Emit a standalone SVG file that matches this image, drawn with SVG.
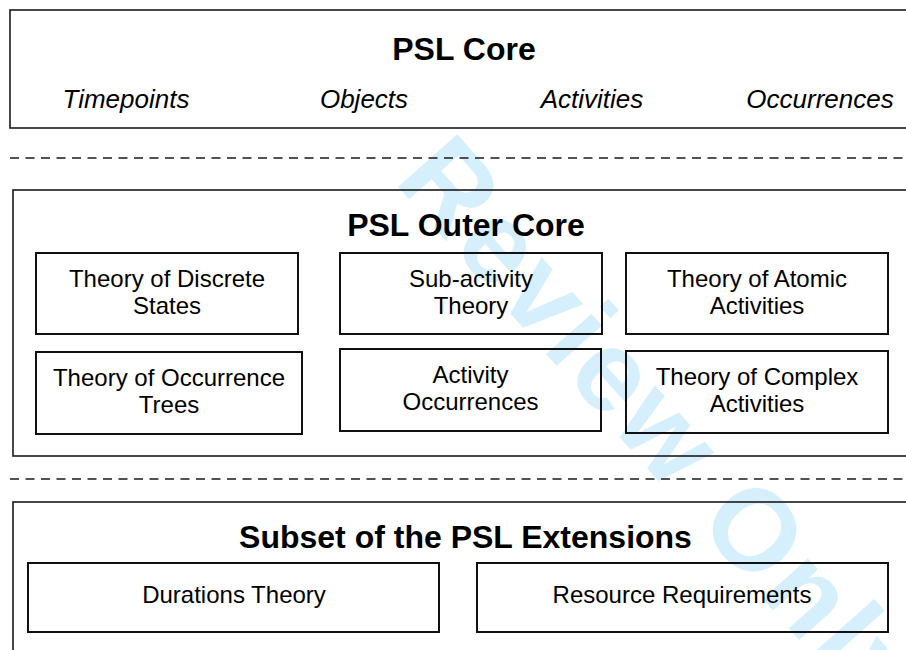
<svg xmlns="http://www.w3.org/2000/svg" width="906" height="650" viewBox="0 0 906 650">
<style>
.frame{fill:none;stroke:#1a1a1a;stroke-width:1.6}
.box{fill:none;stroke:#111;stroke-width:2}
.dash{stroke:#1a1a1a;stroke-width:1.6;stroke-dasharray:9 6.5}
.title{font-family:"Liberation Sans",Arial,sans-serif;font-weight:bold;font-size:32px;fill:#000;text-anchor:middle}
.ital{font-family:"Liberation Sans",Arial,sans-serif;font-style:italic;font-size:26px;fill:#000;text-anchor:middle}
.lbl{font-family:"Liberation Sans",Arial,sans-serif;font-size:24px;fill:#000;text-anchor:middle}
.wm{font-family:"Liberation Sans",Arial,sans-serif;font-weight:bold;font-size:115px;letter-spacing:4px;fill:#d5f0fc}
</style>
<rect width="906" height="650" fill="#fff"/>
<g id="watermark">
<text class="wm" transform="translate(393,181) rotate(48.5)" x="0" y="0">Review Only</text>
</g>
<g id="psl-core">
<rect class="frame" x="10" y="10" width="920" height="118"/>
<text class="title" x="464" y="60">PSL Core</text>
<text class="ital" x="126" y="108">Timepoints</text>
<text class="ital" x="364" y="108">Objects</text>
<text class="ital" x="592" y="108">Activities</text>
<text class="ital" x="820" y="108">Occurrences</text>
</g>
<g id="connectors">
<line class="dash" x1="10" y1="158" x2="906" y2="158"/>
<line class="dash" x1="10" y1="479" x2="906" y2="479"/>
</g>
<g id="outer-core">
<rect class="frame" x="13" y="190" width="920" height="266"/>
<text class="title" x="466" y="236">PSL Outer Core</text>
</g>
<g id="discrete-states">
<rect class="box" x="36" y="253" width="262" height="81"/>
<text class="lbl" x="167" y="287">Theory of Discrete</text>
<text class="lbl" x="167" y="314">States</text>
</g>
<g id="sub-activity">
<rect class="box" x="340" y="253" width="262" height="81"/>
<text class="lbl" x="471" y="287">Sub-activity</text>
<text class="lbl" x="471" y="314">Theory</text>
</g>
<g id="atomic-activities">
<rect class="box" x="626" y="253" width="262" height="81"/>
<text class="lbl" x="757" y="287">Theory of Atomic</text>
<text class="lbl" x="757" y="314">Activities</text>
</g>
<g id="occurrence-trees">
<rect class="box" x="36" y="352" width="266" height="82"/>
<text class="lbl" x="169" y="386">Theory of Occurrence</text>
<text class="lbl" x="169" y="413">Trees</text>
</g>
<g id="activity-occurrences">
<rect class="box" x="340" y="349" width="261" height="82"/>
<text class="lbl" x="470.5" y="383">Activity</text>
<text class="lbl" x="470.5" y="410">Occurrences</text>
</g>
<g id="complex-activities">
<rect class="box" x="626" y="351" width="262" height="82"/>
<text class="lbl" x="757" y="385">Theory of Complex</text>
<text class="lbl" x="757" y="412">Activities</text>
</g>
<g id="extensions">
<rect class="frame" x="13" y="502" width="920" height="170"/>
<text class="title" x="465.5" y="548">Subset of the PSL Extensions</text>
</g>
<g id="durations">
<rect class="box" x="28" y="563" width="411" height="69"/>
<text class="lbl" x="234" y="603">Durations Theory</text>
</g>
<g id="resources">
<rect class="box" x="477" y="563" width="411" height="69"/>
<text class="lbl" x="682" y="603">Resource Requirements</text>
</g>
</svg>
